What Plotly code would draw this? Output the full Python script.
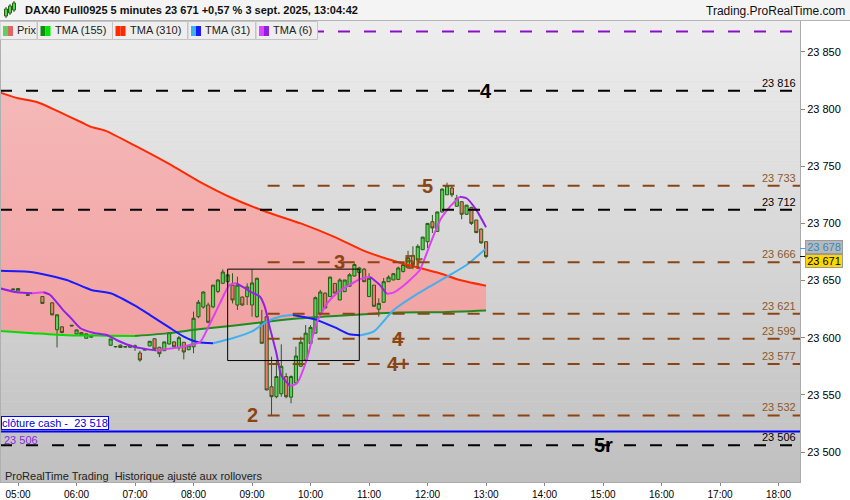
import plotly.graph_objects as go

DAY = "2025-09-03 "

# ---------------- price data (5 minute candles) ----------------
candle_times = ["04:55","05:00","05:10","05:25","05:35","05:40","05:45","05:55","06:00","06:05",
                "06:10","06:15","06:35","06:40","06:45","06:50","06:55","07:00","07:05","07:10",
                "07:15","07:20","07:25","07:30","07:35","07:40","07:45","07:50","07:55","08:00",
                "08:05","08:10","08:15","08:20","08:25","08:30","08:35","08:40","08:45","08:50",
                "08:55","09:00","09:05","09:10","09:15","09:20","09:25","09:30","09:35","09:40",
                "09:45","09:50","09:55","10:00","10:05","10:10","10:15","10:20","10:25","10:30",
                "10:35","10:40","10:45","10:50","10:55","11:00","11:05","11:10","11:15","11:20",
                "11:25","11:30","11:35","11:40","11:45","11:50","11:55","12:00","12:05","12:10",
                "12:15","12:20","12:25","12:30","12:35","12:40","12:45","12:50","12:55","13:00"]
candle_open = [23642,23641,23637,23636,23630.5,23607,23609.5,23610.2,23603.3,23604.4,
               23599.5,23600.5,23593.4,23592,23593.5,23591.8,23591.6,23593,23586.6,23589.1,
               23592.8,23599.1,23591.6,23588.6,23594.5,23596.3,23591,23596,23589.5,23592,
               23618.4,23626.8,23628.6,23627,23640.5,23647.6,23649,23646,23628.6,23635.6,
               23635.9,23628.6,23618.4,23612.6,23618.4,23557.1,23548.4,23551,23566,23548,
               23560.5,23575,23580.5,23595,23604,23621.5,23639,23636,23647.5,23633,
               23640.3,23645,23654,23657,23660,23636,23646,23625,23631,23649,
               23650.5,23651,23658,23662,23672,23668,23677,23684,23701.5,23693,
               23710,23725,23731,23715,23719,23708,23714,23703,23695,23684]
candle_high = [23643,23643.5,23638,23636.5,23631,23620.5,23610,23611,23607,23605,
               23603.5,23602.5,23599,23592.5,23594,23592.5,23593.5,23594,23588.6,23590,
               23597,23599.5,23592,23596.5,23605,23597,23601.5,23596.3,23593.5,23622.8,
               23633,23640.5,23630.6,23646.2,23651,23659.8,23655.5,23656.4,23653.4,23636,
               23647.6,23659.9,23652.5,23624.3,23621.4,23583.4,23580.5,23594.2,23569,23567,
               23592.1,23600.9,23611.1,23611,23636,23641.8,23639.5,23653.4,23647.6,23652,
               23650.5,23656.4,23665.1,23662,23661,23656.4,23646.1,23634.5,23652.3,23654.6,
               23656.4,23662.2,23666,23676,23680,23681.7,23688.4,23700.4,23707.4,23710.3,
               23730.7,23735.6,23733.6,23725,23719,23716.1,23714.6,23703,23695.7,23684]
candle_low = [23641.5,23641,23636.5,23629.5,23619.5,23591.5,23604,23610,23603,23602,
              23599.5,23600,23593,23591.5,23591,23591.5,23591.5,23588.5,23579,23589,
              23592.5,23589.5,23583,23588.5,23594,23592,23588.6,23581,23589,23586.4,
              23617,23625.5,23612.6,23625.7,23639,23647,23642,23630,23624.3,23628,
              23628.6,23618.4,23617.5,23595,23554,23532,23547,23548.4,23547,23542.6,
              23560,23574.6,23580,23595,23603.8,23621,23625.7,23635.9,23638.9,23633,
              23640,23644.6,23653.4,23650.5,23649,23635.9,23627,23618.4,23630.4,23649,
              23650.5,23650.5,23657,23662,23660,23668,23676.7,23678.5,23691.6,23692.8,
              23709.5,23724.9,23723,23714.6,23703.6,23707.4,23698.6,23691.4,23682,23669.5]
candle_close = [23642.5,23643,23637.5,23630,23620,23620,23604.5,23610.8,23606.8,23602.4,
                23603.3,23602,23598.9,23592.3,23591.4,23592.2,23593.4,23592,23580.5,23589.9,
                23596.9,23590,23586,23596.3,23604.4,23592.1,23600,23587.5,23593,23617,
                23631,23640,23613.5,23646,23650.5,23657.5,23655,23633,23646,23628.6,
                23644.4,23647.9,23652,23595.1,23554.3,23548.4,23566,23575,23548.4,23566,
                23584,23596,23604,23609,23635,23640,23626,23653,23639,23650.5,
                23650.5,23655,23664,23661,23649,23652,23627.5,23630,23649,23653,
                23656,23661,23664,23670,23664,23680,23688,23700,23696,23710,
                23730,23733,23725,23722,23708,23716,23700,23692,23683,23671]

# ---------------- triangular moving averages ----------------
tma310_times = ["04:40","05:00","05:20","05:45","06:05","06:15","06:30","07:00","07:35","08:05",
                "08:40","09:15","09:50","10:25","10:55","11:30","12:10","12:35","13:00"]
tma310_values = [23815,23809.5,23806,23796.5,23788.5,23784.5,23781,23768,23752,23737,
                 23722,23710,23700,23688,23676,23666,23657,23650,23645.5]

tma155_times = ["04:40","05:15","05:50","06:30","07:00","07:35","08:05","08:40","09:15","09:50",
                "10:25","11:00","11:30","12:15","13:00"]
tma155_values = [23606,23604,23602.2,23601.8,23601.5,23604,23607.4,23610.5,23614,23617,
                 23619,23620.8,23622,23622.3,23623.7]

tma31_times = ["04:40","05:15","05:50","06:15","06:35","07:00","07:15","07:35","07:50","08:05",
               "08:20","08:40","09:00","09:15","09:30","09:42","10:05","10:25","10:40","10:51",
               "11:05","11:25","11:50","12:20","12:40","13:00"]
tma31_values = [23658.5,23657.3,23650.5,23641.8,23638.9,23628,23620,23609,23601,23596,
                23595.1,23599.5,23605.5,23614,23618.8,23619.9,23616,23609,23603,23602.1,
                23605.5,23624,23638.5,23653.4,23663.6,23678]

tma6_times = ["04:40","04:59","05:15","05:26","05:33","05:46","05:53","06:04","06:17","06:31",
              "06:41","06:58","07:22","07:32","07:46","07:56","08:07","08:17","08:27","08:37",
              "08:44","08:53","08:58","09:08","09:13","09:18","09:25","09:30","09:39","09:46",
              "09:56","10:06","10:17","10:27","10:40","10:51","11:01","11:11","11:18","11:25",
              "11:35","11:42","11:52","12:03","12:13","12:23","12:33","12:40","12:50","13:00"]
tma6_values = [23643.5,23639.8,23639,23639.8,23637.4,23624.3,23618.4,23608.3,23604.4,23602.4,
               23598,23592.2,23588.7,23590,23591.6,23593.6,23596.5,23612.6,23630,23646.2,
               23647.6,23643.3,23640.3,23636,23627.2,23609.7,23586.4,23567,23557.8,23560.1,
               23580.5,23612.6,23630,23639,23646.2,23651.4,23653.4,23646.2,23638.3,23639.4,
               23645.3,23650.5,23659.3,23682.6,23703,23714.7,23723.4,23722,23711.8,23696.6]

# ---------------- levels & labels ----------------
black_levels = [23816, 23712, 23506]
black_labels = ["23 816", "23 712", "23 506"]
brown_levels = [23733, 23666, 23621, 23599, 23577, 23532]
brown_labels = ["23 733", "23 666", "23 621", "23 599", "23 577", "23 532"]
brown_start = "09:16"
purple_level = 23868
cash_close = 23518
cash_text = "clôture cash -\u00a0 23 518"
last_price = 23671
tma31_last = 23678

wave_texts = ["4", "5", "3", "5r", "4", "4+", "2", "5r"]
wave_times = ["13:00", "12:00", "10:30", "11:46", "11:30", "11:30", "09:00", "15:00"]
wave_prices = [23816, 23733, 23666, 23666, 23599, 23577, 23532, 23506]
wave_colors = ["#000000", "#8B4513", "#8B4513", "rgba(139,69,19,0.85)", "#8B4513", "#8B4513",
               "#8B4513", "#000000"]

box_start, box_end, box_low, box_high = "08:35", "10:50", 23580, 23660

title_text = "DAX40 Full0925 5 minutes 23 671 +0,57 % 3 sept. 2025, 13:04:42"
site_text = "Trading.ProRealTime.com"
footer_text = "ProRealTime Trading\u00a0 Historique ajusté aux rollovers"
legend_items = ["Prix", "TMA (155)", "TMA (310)", "TMA (31)", "TMA (6)"]
legend_icon_colors = [("#5fcf5f", "#e06666"), ("#118a11", "#00e600"), ("#ff2a00", "#ff2a00"),
                      ("#3cb0f0", "#1a1aff"), ("#dd44ff", "#9020e0")]

y_ticks = [23500, 23550, 23600, 23650, 23700, 23750, 23800, 23850]
x_range = ["04:41:30", "18:22:00"]
y_range = [23473.75, 23877.1]

# ---------------- geometry helpers ----------------
W, H = 850, 500
ML, MR, MT, MB = 0, 50, 21, 18
PW, PH = W - ML - MR, H - MT - MB
FONT = "Liberation Sans, Arial, sans-serif"
BROWN = "#8B4513"


def px(x):
    return (x - ML) / PW


def py(y):
    return (H - MB - y) / PH


def T(hm):
    return DAY + hm


fig = go.Figure()

# pink area between TMA(155) and TMA(310) (base axes, drawn below everything)
fig.add_trace(go.Scatter(x=[T(t) for t in tma155_times], y=tma155_values, mode="lines",
                         line=dict(width=0, shape="spline", smoothing=0.6),
                         hoverinfo="skip", showlegend=False))
fig.add_trace(go.Scatter(x=[T(t) for t in tma310_times], y=tma310_values, mode="lines",
                         line=dict(width=0, shape="spline", smoothing=0.6), fill="tonexty",
                         fillgradient=dict(type="vertical",
                                           colorscale=[[0, "#f2a2a2"], [1, "#f5b8b8"]]),
                         hoverinfo="skip", showlegend=False))

# candles (overlay axes so they sit above the fill)
fig.add_trace(go.Candlestick(
    x=[T(t) for t in candle_times], open=candle_open, high=candle_high,
    low=candle_low, close=candle_close, xaxis="x2", yaxis="y2",
    increasing=dict(line=dict(color="#2c5a1a", width=1), fillcolor="#4fd84f"),
    decreasing=dict(line=dict(color="#2c5a1a", width=1), fillcolor="#f07a6c"),
    whiskerwidth=0, showlegend=False, hoverinfo="skip"))


def add_colored(times, values, up_color, down_color, width):
    n = len(values)
    dirs = []
    for i in range(n - 1):
        d = values[i + 1] - values[i]
        if d == 0 and dirs:
            dirs.append(dirs[-1])
        else:
            dirs.append(1 if d > 0 else -1)
    start = 0
    for i in range(1, n):
        if i == n - 1 or dirs[i] != dirs[start]:
            seg_t = [T(t) for t in times[start:i + 1]]
            seg_v = values[start:i + 1]
            fig.add_trace(go.Scatter(x=seg_t, y=seg_v, mode="lines", xaxis="x2", yaxis="y2",
                                     line=dict(color=up_color if dirs[start] > 0 else down_color,
                                               width=width, shape="spline", smoothing=0.6),
                                     hoverinfo="skip", showlegend=False))
            start = i


add_colored(tma155_times, tma155_values, "#1e8c1e", "#00dd00", 2)
fig.add_trace(go.Scatter(x=[T(t) for t in tma310_times], y=tma310_values, mode="lines",
                         xaxis="x2", yaxis="y2",
                         line=dict(color="#ff2a00", width=2, shape="spline", smoothing=0.6),
                         hoverinfo="skip", showlegend=False))
add_colored(tma31_times, tma31_values, "#40b0ee", "#1a1aff", 2)
add_colored(tma6_times, tma6_values, "#e040f0", "#9420e6", 2)

shapes = []
# background gradient strips
top_c, bot_c = 237, 192
N = 46
for i in range(N):
    f = (i + 0.5) / N
    c = round(top_c + (bot_c - top_c) * f)
    shapes.append(dict(type="rect", xref="paper", yref="paper", x0=0, x1=1,
                       y0=1 - (i + 1) / N, y1=1 - i / N, fillcolor=f"rgb({c},{c},{c})",
                       line=dict(width=0), layer="below"))

x_end = T(x_range[1])
x_begin = T(x_range[0])
# level lines
shapes.append(dict(type="line", xref="x", yref="y", x0=x_begin, x1=x_end, y0=purple_level,
                   y1=purple_level, line=dict(color="#8a10c8", width=2, dash="12px,14px")))
for lv in black_levels:
    shapes.append(dict(type="line", xref="x", yref="y", x0=x_begin, x1=x_end, y0=lv, y1=lv,
                       line=dict(color="#000000", width=2, dash="12px,14px")))
for lv in brown_levels:
    shapes.append(dict(type="line", xref="x", yref="y", x0=T(brown_start), x1=x_end, y0=lv, y1=lv,
                       line=dict(color=BROWN, width=2, dash="12px,13px")))
shapes.append(dict(type="line", xref="x", yref="y", x0=x_begin, x1=x_end, y0=cash_close,
                   y1=cash_close, line=dict(color="#0000ff", width=2)))
# analysis rectangle
shapes.append(dict(type="rect", xref="x", yref="y", x0=T(box_start), x1=T(box_end),
                   y0=box_low, y1=box_high, line=dict(color="#000000", width=1)))
# left frame edge
shapes.append(dict(type="line", xref="paper", yref="paper", x0=px(0.5), x1=px(0.5),
                   y0=0, y1=1, line=dict(color="#b0b0b0", width=1)))

# header bar
shapes.append(dict(type="rect", xref="paper", yref="paper", x0=px(0), x1=px(W), y0=py(20.5),
                   y1=py(0), fillcolor="#f4f4f4", line=dict(width=0)))
shapes.append(dict(type="line", xref="paper", yref="paper", x0=px(0), x1=px(W), y0=py(20.5),
                   y1=py(20.5), line=dict(color="#b4b4b4", width=1)))
# header icon (mini candles)
for (cx, y0, y1) in [(6, 9, 16), (10, 6, 13), (14, 3, 10)]:
    shapes.append(dict(type="line", xref="paper", yref="paper", x0=px(cx), x1=px(cx),
                       y0=py(y1 + 2), y1=py(y0 - 2), line=dict(color="#2c5a1a", width=1)))
    shapes.append(dict(type="rect", xref="paper", yref="paper", x0=px(cx - 1.5), x1=px(cx + 1.5),
                       y0=py(y1), y1=py(y0), fillcolor="#4fd84f",
                       line=dict(color="#2c5a1a", width=1)))

# legend boxes
box_x = [(0, 37), (37.5, 112.5), (112.5, 187.5), (188, 255.5), (256, 317.5)]
for (x0, x1), (c1, c2) in zip(box_x, legend_icon_colors):
    shapes.append(dict(type="rect", xref="paper", yref="paper", x0=px(x0), x1=px(x1),
                       y0=py(39.5), y1=py(21.5), fillcolor="#eeeeee",
                       line=dict(color="#c4c4c4", width=1)))
    shapes.append(dict(type="rect", xref="paper", yref="paper", x0=px(x0 + 3), x1=px(x0 + 8),
                       y0=py(36), y1=py(26), fillcolor=c1, line=dict(width=0)))
    shapes.append(dict(type="rect", xref="paper", yref="paper", x0=px(x0 + 8), x1=px(x0 + 13),
                       y0=py(36), y1=py(26), fillcolor=c2, line=dict(width=0)))

# current price pointers on axis
shapes.append(dict(type="line", xref="paper", yref="y", x0=px(800), x1=px(805), y0=tma31_last,
                   y1=tma31_last, line=dict(color="#3ca0e0", width=1)))
shapes.append(dict(type="line", xref="paper", yref="y", x0=px(800), x1=px(805), y0=last_price,
                   y1=last_price, line=dict(color="#000000", width=1)))

ann = []
ann.append(dict(text=title_text, xref="paper", yref="paper", x=px(23), y=py(10.5),
                xanchor="left", yanchor="middle", showarrow=False,
                font=dict(family=FONT, size=11, color="#111111", weight="bold")))
ann.append(dict(text=site_text, xref="paper", yref="paper", x=px(847), y=py(11),
                xanchor="right", yanchor="middle", showarrow=False,
                font=dict(family=FONT, size=12, color="#111111")))
for (x0, x1), lab in zip(box_x, legend_items):
    ann.append(dict(text=lab, xref="paper", yref="paper", x=px(x0 + 15), y=py(30.5),
                    xanchor="left", yanchor="middle", showarrow=False,
                    font=dict(family=FONT, size=11, color="#222222")))
for lv, lab in zip(black_levels, black_labels):
    ann.append(dict(text=lab, xref="paper", yref="y", x=px(798), y=lv, xanchor="right",
                    yanchor="middle", yshift=8, showarrow=False,
                    font=dict(family=FONT, size=11, color="#000000")))
for lv, lab in zip(brown_levels, brown_labels):
    ann.append(dict(text=lab, xref="paper", yref="y", x=px(798), y=lv, xanchor="right",
                    yanchor="middle", yshift=8, showarrow=False,
                    font=dict(family=FONT, size=11, color="#8B5A2B")))
for txt, t, p, c in zip(wave_texts, wave_times, wave_prices, wave_colors):
    ann.append(dict(text=txt, xref="x", yref="y", x=T(t), y=p, xanchor="center",
                    yanchor="middle", showarrow=False,
                    font=dict(family=FONT, size=20, color=c, weight="bold")))
ann.append(dict(text=cash_text, xref="paper", yref="y", x=px(1), y=cash_close, xanchor="left",
                yanchor="bottom", yshift=1, showarrow=False, bgcolor="#ffffff",
                bordercolor="#0000ff", borderwidth=1, borderpad=0,
                font=dict(family=FONT, size=11, color="#0000dd")))
ann.append(dict(text="23 506", xref="paper", yref="y", x=px(2), y=cash_close, xanchor="left",
                yanchor="top", yshift=-1, showarrow=False,
                font=dict(family=FONT, size=11, color="#8a2be2")))
ann.append(dict(text=footer_text, xref="paper", yref="paper", x=px(3), y=py(476),
                xanchor="left", yanchor="middle", showarrow=False,
                font=dict(family=FONT, size=11, color="#222222")))
ann.append(dict(text="23 678", xref="paper", yref="paper", x=px(805), y=py(247),
                xanchor="left", yanchor="middle", showarrow=False, bgcolor="#b8b8b8",
                bordercolor="#9a9a9a", borderwidth=1, borderpad=0, width=36,
                font=dict(family=FONT, size=11, color="#2a8ad0")))
ann.append(dict(text="23 671", xref="paper", yref="paper", x=px(805), y=py(261),
                xanchor="left", yanchor="middle", showarrow=False, bgcolor="#ffd700",
                bordercolor="#9a9a9a", borderwidth=1, borderpad=0, width=36,
                font=dict(family=FONT, size=11, color="#000000")))

xr = [T(x_range[0]), T(x_range[1])]
fig.update_layout(
    width=W, height=H, autosize=False,
    margin=dict(l=ML, r=MR, t=MT, b=MB, pad=0),
    paper_bgcolor="#ffffff", plot_bgcolor="#d6d6d6",
    separators=", ",
    showlegend=False,
    boxgap=0.2, boxgroupgap=0.2,
    shapes=shapes, annotations=ann,
    xaxis=dict(type="date", range=xr, tickformat="%H:%M",
               dtick=3600000, tick0=T("05:00"), showgrid=False, zeroline=False,
               ticks="outside", ticklen=3, tickcolor="#888888", showline=True,
               linecolor="#aaaaaa", rangeslider=dict(visible=False),
               tickfont=dict(family=FONT, size=10, color="#000000")),
    yaxis=dict(side="right", range=y_range, tickvals=y_ticks, tickformat=",.0f",
               showgrid=False, zeroline=False, ticks="outside", ticklen=4,
               tickcolor="#888888", showline=True, linecolor="#aaaaaa",
               tickfont=dict(family=FONT, size=11, color="#000000")),
    xaxis2=dict(type="date", range=xr, overlaying="x", visible=False,
                rangeslider=dict(visible=False), showgrid=False),
    yaxis2=dict(range=y_range, overlaying="y", visible=False, showgrid=False),
)

fig.write_html("out.html", config={"displayModeBar": False},
               post_script="document.body.style.margin='0px';")
